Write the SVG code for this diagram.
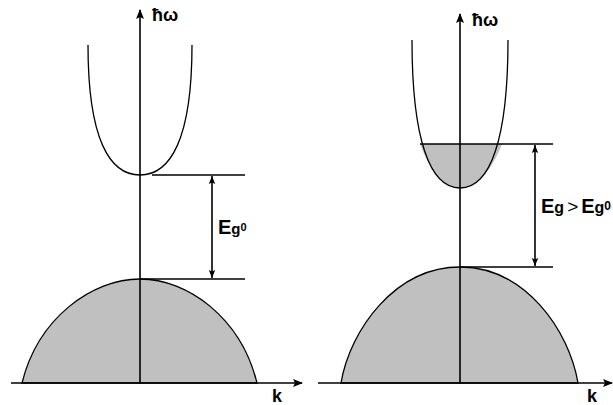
<svg xmlns="http://www.w3.org/2000/svg" width="613" height="405" viewBox="0 0 613 405">
<style>
.ax{stroke:#000;stroke-width:1.6;fill:none}
.lv{stroke:#000;stroke-width:1.6;fill:none}
.band{stroke:#000;stroke-width:1.3;fill:#c0c0c0}
.curve{stroke:#000;stroke-width:1.3;fill:none}
.t{font-family:"Liberation Sans",Arial,sans-serif;font-weight:bold;fill:#000}
</style>
<defs>
<marker id="ah" viewBox="0 0 10 10" refX="9" refY="5" markerWidth="10" markerHeight="10" markerUnits="userSpaceOnUse" orient="auto">
<path d="M0,1 L10,5 L0,9 L2,5 Z" fill="#000"/>
</marker>
<marker id="dh" viewBox="0 0 10 10" refX="10" refY="5" markerWidth="9" markerHeight="8" markerUnits="userSpaceOnUse" orient="auto-start-reverse">
<path d="M0,1 L10,5 L0,9 L2,5 Z" fill="#000"/>
</marker>
</defs>

<g id="left-valence">
<path class="band" d="M22,383 C38,318 92,279 140,279 C188,279 241,318 257,383 Z"/>
</g>
<g id="left-conduction">
<path class="curve" d="M88,45 C88,140 110,175 140,175 C170,175 192,140 192,45"/>
</g>
<g id="right-valence">
<path class="band" d="M341,383 C350,330 395,267 460,267 C525,267 569,330 578,383 Z"/>
</g>
<g id="right-conduction">
<path d="M420,144 C430,170 443,188 460,188 C477,188 492,170 502,144 Z" fill="#c0c0c0"/>
<path class="curve" d="M412,40 C412,140 430,188 460,188 C490,188 508,140 508,40"/>
</g>

<g id="connectors">
<line class="ax" x1="11" y1="383" x2="302" y2="383" marker-end="url(#ah)"/>
<line class="ax" x1="140" y1="383" x2="140" y2="10" marker-end="url(#ah)"/>
<line class="ax" x1="318" y1="383" x2="612" y2="383" marker-end="url(#ah)"/>
<line class="ax" x1="460" y1="383" x2="460" y2="14" marker-end="url(#ah)"/>
<line class="lv" x1="152" y1="175" x2="245" y2="175"/>
<line class="lv" x1="140" y1="279" x2="245" y2="279"/>
<line class="lv" x1="212" y1="176" x2="212" y2="278" marker-start="url(#dh)" marker-end="url(#dh)"/>
<line class="lv" x1="420" y1="144" x2="553" y2="144"/>
<line class="lv" x1="460" y1="267" x2="553" y2="267"/>
<line class="lv" x1="535" y1="145" x2="535" y2="266" marker-start="url(#dh)" marker-end="url(#dh)"/>
</g>

<g id="labels">
<text class="t" x="152" y="21" font-size="18">ħω</text>
<text class="t" x="472" y="26" font-size="18">ħω</text>
<text class="t" x="272" y="402" font-size="18">k</text>
<text class="t" x="587" y="402" font-size="18">k</text>
<text class="t" x="218" y="234" font-size="20">E<tspan font-size="15">g</tspan><tspan font-size="11" dy="-3">0</tspan></text>
<text class="t" x="541" y="213" font-size="20">E<tspan font-size="16">g</tspan><tspan font-size="19" font-weight="normal" dx="3">&gt;</tspan><tspan dx="3">E</tspan><tspan font-size="16">g</tspan><tspan font-size="12" dy="-3">0</tspan></text>
</g>
</svg>
